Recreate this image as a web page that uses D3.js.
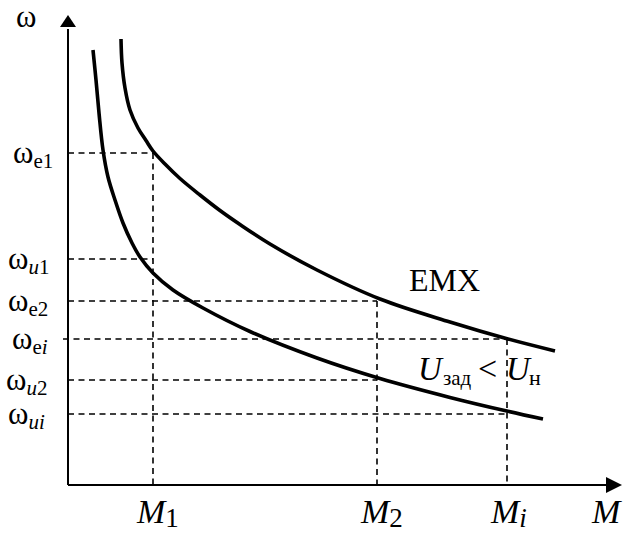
<!DOCTYPE html>
<html>
<head>
<meta charset="utf-8">
<script src="https://cdn.jsdelivr.net/npm/d3@7"></script>
<style>
  html, body { margin: 0; padding: 0; background: #fff; }
  svg { display: block; }
</style>
</head>
<body>
<div id="chart"></div>
<script>
// ---- data (arbitrary units: M to the right, ω upward) ----
const upperCurveM = [53, 54, 57, 62, 70, 78, 85, 97, 112, 132, 152, 172, 202, 249, 312, 382, 440, 487];
const upperCurveW = [446, 422, 397, 375, 357, 344.5, 334, 321, 306.5, 290, 274.5, 260.5, 241, 215, 186, 163, 146, 134];
const lowerCurveM = [25, 28, 31, 35, 40, 47, 55, 64, 72, 85, 105, 135, 182, 249, 312, 382, 440, 475];
const lowerCurveW = [435, 405, 372, 335, 308, 285, 262, 242, 228, 212, 195, 177, 153.5, 127, 106.5, 87.6, 73.7, 66];

const wLevelNames = ["e1", "u1", "e2", "ei", "u2", "ui"];
const wLevels     = [332, 226, 184, 146, 105, 71];
const wLevelToM   = [85, 85, 309, 439, 309, 439];

const mTickNames  = ["1", "2", "i"];
const mTicks      = [85, 309, 439];
const mTickFromW  = [332, 184, 146];

// ---- layout ----
const W = 627, H = 534;
const FONT = "'Liberation Serif', 'Times New Roman', 'DejaVu Serif', serif";
const x = d3.scaleLinear().domain([0, 554]).range([68, 622]);
const y = d3.scaleLinear().domain([0, 470]).range([485, 15]);

const svg = d3.select("#chart").append("svg").attr("width", W).attr("height", H)
  .attr("font-family", FONT);

// dashed guides
const dash = "6,4.5";
wLevels.forEach((w, i) => {
  svg.append("line")
    .attr("x1", x(i === 3 ? -5 : 0)).attr("x2", x(wLevelToM[i]))
    .attr("y1", y(w)).attr("y2", y(w))
    .attr("stroke", "#000").attr("stroke-width", 1.6).attr("stroke-dasharray", dash);
});
mTicks.forEach((m, i) => {
  svg.append("line")
    .attr("x1", x(m)).attr("x2", x(m))
    .attr("y1", y(mTickFromW[i])).attr("y2", y(0))
    .attr("stroke", "#000").attr("stroke-width", 1.6).attr("stroke-dasharray", dash);
});

// axes
svg.append("line").attr("x1", x(0)).attr("x2", x(540)).attr("y1", y(0)).attr("y2", y(0))
  .attr("stroke", "#000").attr("stroke-width", 2);
svg.append("line").attr("x1", x(0)).attr("x2", x(0)).attr("y1", y(0)).attr("y2", y(456))
  .attr("stroke", "#000").attr("stroke-width", 2);
svg.append("path")
  .attr("d", `M${x(554)},${y(0)} L${x(538)},${y(0) - 8} L${x(538)},${y(0) + 8} Z`)
  .attr("fill", "#000");
svg.append("path")
  .attr("d", `M${x(0)},${y(470)} L${x(0) - 8},${y(458)} L${x(0) + 8},${y(458)} Z`)
  .attr("fill", "#000");

// curves
const line = d3.line().x(d => x(d[0])).y(d => y(d[1])).curve(d3.curveCatmullRom.alpha(0.5));
svg.append("path").datum(upperCurveM.map((m, i) => [m, upperCurveW[i]]))
  .attr("d", line).attr("fill", "none").attr("stroke", "#000").attr("stroke-width", 3.6);
svg.append("path").datum(lowerCurveM.map((m, i) => [m, lowerCurveW[i]]))
  .attr("d", line).attr("fill", "none").attr("stroke", "#000").attr("stroke-width", 3.6);

// ---- text ----
const FS = 31, SFS = 21;
// y-axis label
svg.append("text").attr("x", 16).attr("y", 27).attr("font-size", FS).text("ω");

// ω level labels
const labelX = [13, 8, 8, 12, 6, 8];
const italicParts = {
  e1: [["e", false], ["1", false]],
  u1: [["u", true], ["1", false]],
  e2: [["e", false], ["2", false]],
  ei: [["e", false], ["i", true]],
  u2: [["u", true], ["2", false]],
  ui: [["u", true], ["i", true]]
};
wLevels.forEach((w, i) => {
  const t = svg.append("text").attr("x", labelX[i]).attr("y", y(w) + 10).attr("font-size", FS);
  t.append("tspan").text("ω");
  italicParts[wLevelNames[i]].forEach((p, j) => {
    const s = t.append("tspan").attr("font-size", SFS).text(p[0]);
    if (j === 0) s.attr("dy", 5);
    if (p[1]) s.attr("font-style", "italic");
  });
});

// M tick labels
mTicks.forEach((m, i) => {
  const t = svg.append("text").attr("x", x(m) - 16).attr("y", 523).attr("font-size", 34);
  t.append("tspan").attr("font-style", "italic").text("M");
  const s = t.append("tspan").attr("font-size", 27).attr("dy", 4).text(mTickNames[i]);
  if (mTickNames[i] === "i") s.attr("font-style", "italic");
});
svg.append("text").attr("x", 592).attr("y", 523).attr("font-size", 34)
  .attr("font-style", "italic").text("M");

// curve labels
svg.append("text").attr("x", 409).attr("y", 291).attr("font-size", 32).text("EMX");
const ub = 380;
svg.append("text").attr("x", 418).attr("y", ub).attr("font-size", 33)
  .attr("font-style", "italic").text("U");
svg.append("text").attr("x", 443).attr("y", ub + 5).attr("font-size", 21).text("зад");
svg.append("text").attr("x", 478).attr("y", ub).attr("font-size", 34).text("<");
svg.append("text").attr("x", 506).attr("y", ub).attr("font-size", 33)
  .attr("font-style", "italic").text("U");
svg.append("text").attr("x", 529).attr("y", ub + 5).attr("font-size", 22).text("н");
</script>
</body>
</html>
